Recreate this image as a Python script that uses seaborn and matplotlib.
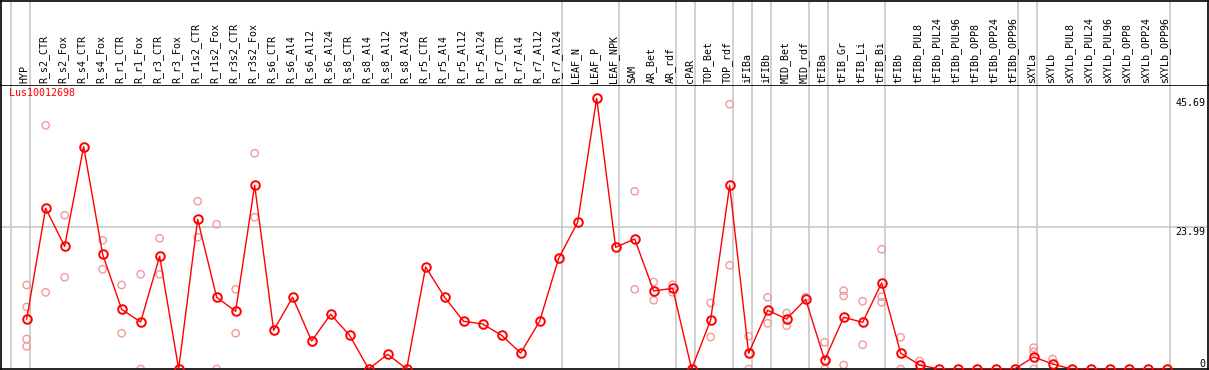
import matplotlib
matplotlib.use("Agg")
import matplotlib.pyplot as plt
import matplotlib.transforms as mtransforms
import numpy as np
import pandas as pd
import seaborn as sns

# sample names along the top
samples = [
    "HYP", "R_s2_CTR", "R_s2_Fox", "R_s4_CTR", "R_s4_Fox", "R_r1_CTR", "R_r1_Fox",
    "R_r3_CTR", "R_r3_Fox", "R_r1s2_CTR", "R_r1s2_Fox", "R_r3s2_CTR", "R_r3s2_Fox",
    "R_s6_CTR", "R_s6_Al4", "R_s6_Al12", "R_s6_Al24", "R_s8_CTR", "R_s8_Al4",
    "R_s8_Al12", "R_s8_Al24", "R_r5_CTR", "R_r5_Al4", "R_r5_Al12", "R_r5_Al24",
    "R_r7_CTR", "R_r7_Al4", "R_r7_Al12", "R_r7_Al24", "LEAF_N", "LEAF_P", "LEAF_NPK",
    "SAM", "AR_Bet", "AR_rdf", "cPAR", "TOP_Bet", "TOP_rdf", "iFIBa", "iFIBb",
    "MID_Bet", "MID_rdf", "tFIBa", "tFIB_Gr", "tFIB_Li", "tFIB_Bi", "tFIBb",
    "tFIBb_PUL8", "tFIBb_PUL24", "tFIBb_PUL96", "tFIBb_OPP8", "tFIBb_OPP24",
    "tFIBb_OPP96", "sXYLa", "sXYLb", "sXYLb_PUL8", "sXYLb_PUL24", "sXYLb_PUL96",
    "sXYLb_OPP8", "sXYLb_OPP24", "sXYLb_OPP96",
]

# mean expression per sample
means = [
    8.39, 27.13, 20.71, 37.53, 19.36, 10.07, 7.93, 19.02, 0.0, 25.26, 12.10, 9.73, 31.0,
    6.53, 12.10, 4.73, 9.23, 5.68, 0.0, 2.48, 0.0, 17.22, 12.10, 8.05, 7.60,
    5.68, 2.70, 8.05, 18.68, 24.76, 45.69, 20.54,
    21.94, 13.17, 13.62, 0.0, 8.27, 31.0, 2.65, 9.90,
    8.44, 11.76, 1.52, 8.72, 7.88, 14.52, 2.68,
    0.68, 0.0, 0.0, 0.0, 0.0, 0.0, 2.03, 0.84,
    0.0, 0.0, 0.0, 0.0, 0.0, 0.0,
]

# individual replicates (sample name, value)
rep_samples = [
    "HYP", "HYP", "HYP", "HYP", "R_s2_CTR", "R_s2_CTR", "R_s2_Fox", "R_s2_Fox",
    "R_s4_Fox", "R_s4_Fox", "R_r1_CTR", "R_r1_CTR", "R_r1_Fox", "R_r1_Fox",
    "R_r3_CTR", "R_r3_CTR", "R_r1s2_CTR", "R_r1s2_CTR", "R_r1s2_Fox", "R_r1s2_Fox",
    "R_r3s2_CTR", "R_r3s2_CTR", "R_r3s2_Fox", "R_r3s2_Fox",
    "SAM", "SAM", "AR_Bet", "AR_Bet", "AR_rdf", "AR_rdf", "TOP_Bet", "TOP_Bet",
    "TOP_rdf", "TOP_rdf", "iFIBa", "iFIBa", "iFIBb", "iFIBb", "MID_Bet", "MID_Bet",
    "MID_rdf", "tFIBa", "tFIBa", "tFIB_Gr", "tFIB_Gr", "tFIB_Gr", "tFIB_Li", "tFIB_Li",
    "tFIB_Bi", "tFIB_Bi", "tFIB_Bi", "tFIBb", "tFIBb", "tFIBb_PUL8", "tFIBb_PUL8",
    "sXYLa", "sXYLa", "sXYLa", "sXYLb",
]
rep_values = [
    14.18, 10.47, 5.06, 3.83, 41.13, 12.94, 25.94, 15.48,
    21.72, 16.83, 14.18, 6.03, 15.98, 0.0,
    22.06, 15.98, 28.31, 22.23, 24.42, 0.0,
    13.45, 6.03, 36.41, 25.6,
    29.99, 13.45, 14.68, 11.6, 14.23, 12.94, 11.14, 5.40,
    44.68, 17.5, 5.51, 0.0, 12.10, 7.71, 9.45, 7.31,
    12.1, 4.5, 0.0, 13.22, 12.32, 0.68, 11.43, 4.1,
    20.2, 12.2, 11.26, 5.35, 0.0, 1.35, 0.0,
    3.6, 2.92, 0.0, 1.69,
]

# group separators (drawn just right of these samples)
sep_after = ["HYP", "R_r7_Al24", "LEAF_NPK", "AR_rdf", "cPAR", "TOP_rdf", "iFIBa",
             "iFIBb", "MID_rdf", "tFIBa", "tFIB_Bi", "tFIBb_OPP96", "sXYLa", "sXYLb_OPP96"]

gene = "Lus10012698"
y_ticks = [45.69, 23.99, 0]

RED = "#ff0000"
PINK = "#f09a9a"
GRID = "#c4c4c4"

sns.set_style("white")
plt.rcParams["font.family"] = ["DejaVu Sans Mono", "DejaVu Sans"]

pos = {s: i for i, s in enumerate(samples)}
df_mean = pd.DataFrame({"x": np.arange(len(samples)), "value": means})
df_rep = pd.DataFrame({"x": [pos[s] for s in rep_samples], "value": rep_values})

W, H = 1209, 370
fig = plt.figure(figsize=(W / 100, H / 100), dpi=100)
x0, x1 = 1 / W, 1207.5 / W
ax = fig.add_axes([x0, 1 / H, x1 - x0, (369 - 85) / H])
hax = fig.add_axes([x0, (H - 85) / H, x1 - x0, 84.5 / H], sharex=ax)

xlim = (-1.35, 62.15)
ax.set_xlim(*xlim)
ax.set_ylim(0, 47.93)
hax.set_ylim(0, 1)

for a in (ax, hax):
    a.set_xticks([])
    a.set_yticks([])
    a.set_xlabel("")
    a.set_ylabel("")
    for sp in a.spines.values():
        sp.set_color("black")
        sp.set_linewidth(1.2)
hax.spines["bottom"].set_visible(False)

# separators
seps = [-0.8] + [pos[s] + 0.2 for s in sep_after]
for xs in seps:
    ax.axvline(xs, color=GRID, lw=1.1, zorder=0)
    hax.axvline(xs, color=GRID, lw=1.1, zorder=0)
ax.axhline(23.99, color=GRID, lw=1.1, zorder=0)

sns.scatterplot(data=df_rep, x="x", y="value", ax=ax, marker="o", s=28,
                facecolors="none", edgecolors=PINK, linewidths=1.0, zorder=2, legend=False)
sns.lineplot(data=df_mean, x="x", y="value", ax=ax, color=RED, lw=1.0,
             marker="o", markersize=6.2, markerfacecolor="none", markeredgecolor=RED,
             markeredgewidth=1.4, estimator=None, zorder=3, legend=False)
ax.set_xlabel("")
ax.set_ylabel("")
ax.set_xlim(*xlim)
ax.set_ylim(0, 47.93)

# sample labels in header
for i, s in enumerate(samples):
    hax.text(i - 0.1, 0.025, s, rotation=90, ha="center", va="bottom",
             fontsize=7.2, color="black")

ax.text(0.007, 0.99, gene, transform=ax.transAxes, ha="left", va="top",
        fontsize=7.2, color=RED)

tr = mtransforms.blended_transform_factory(ax.transAxes, ax.transData)
for v in y_ticks:
    lab = f"{v:g}" if v == 0 else f"{v:.2f}"
    ax.text(0.998, v, lab, transform=tr, ha="right",
            va="bottom" if v == 0 else "top", fontsize=7.2, color="black")

fig.savefig("out.png", dpi=100)
